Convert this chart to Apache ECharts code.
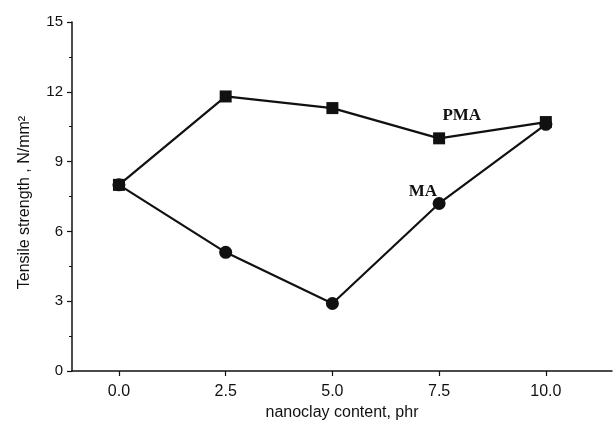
<!DOCTYPE html>
<html><head><meta charset="utf-8">
<script src="https://cdn.jsdelivr.net/npm/echarts@6/dist/echarts.min.js"></script>
<style>html,body{margin:0;padding:0;background:#fff}#c{width:613px;height:429px}</style>
</head><body><div id="c"></div>
<script>
const xValues = [0, 2.5, 5, 7.5, 10];
const pmaValues = [8.0, 11.8, 11.3, 10.0, 10.7];
const maValues = [8.0, 5.1, 2.9, 7.2, 10.6];
const xTicks = [0, 2.5, 5, 7.5, 10];
const yTicks = [0, 3, 6, 9, 12, 15];
const pmaLabelPos = [8.03, 10.98];
const maLabelPos = [7.12, 7.73];

const chart = echarts.init(document.getElementById('c'), null, {renderer: 'canvas'});
const font = 'Liberation Sans, Arial, sans-serif';
const axisCommon = {
  axisLine: {show: true, onZero: false, lineStyle: {color: '#111', width: 1.5}},
  axisTick: {show: true, inside: false, length: 5, lineStyle: {color: '#111', width: 1.2}},
  minorTick: {show: true, splitNumber: 2, length: 3, lineStyle: {color: '#111', width: 1}},
  splitLine: {show: false},
  axisLabel: {color: '#111', fontFamily: font, fontSize: 16}
};
chart.setOption({
  animation: false,
  grid: {left: 72, top: 22, right: 1, bottom: 58, containLabel: false},
  xAxis: Object.assign({}, axisCommon, {
    type: 'value', min: -1.1, max: 11.55,
    customValues: xTicks,
    axisTick: Object.assign({}, axisCommon.axisTick, {customValues: xTicks}),
    axisLabel: Object.assign({}, axisCommon.axisLabel, {customValues: xTicks, margin: 13,
      formatter: v => v.toFixed(1)}),
    minorTick: {show: false},
    name: 'nanoclay content, phr', nameLocation: 'middle', nameGap: 33,
    nameTextStyle: {color: '#111', fontFamily: font, fontSize: 16}
  }),
  yAxis: Object.assign({}, axisCommon, {
    type: 'value', min: 0, max: 15, interval: 3,
    axisLabel: Object.assign({}, axisCommon.axisLabel, {margin: 9, fontSize: 15}),
    name: 'Tensile strength , N/mm²', nameLocation: 'middle', nameGap: 39,
    nameTextStyle: {color: '#111', fontFamily: font, fontSize: 16, padding: [0, 12, 0, 0]}
  }),
  series: [
    {
      name: 'PMA', type: 'line', data: xValues.map((x, i) => [x, pmaValues[i]]),
      symbol: 'rect', symbolSize: 12,
      lineStyle: {color: '#111', width: 2.2}, itemStyle: {color: '#111'},
      markPoint: {symbol: 'rect', symbolSize: 0, silent: true, data: [{coord: pmaLabelPos,
        label: {show: true, position: 'inside', formatter: 'PMA', color: '#111',
          fontFamily: 'Liberation Serif, Times New Roman, serif', fontWeight: 'bold', fontSize: 17}}]}
    },
    {
      name: 'MA', type: 'line', data: xValues.map((x, i) => [x, maValues[i]]),
      symbol: 'circle', symbolSize: 13,
      lineStyle: {color: '#111', width: 2.2}, itemStyle: {color: '#111'},
      markPoint: {symbol: 'rect', symbolSize: 0, silent: true, data: [{coord: maLabelPos,
        label: {show: true, position: 'inside', formatter: 'MA', color: '#111',
          fontFamily: 'Liberation Serif, Times New Roman, serif', fontWeight: 'bold', fontSize: 17}}]}
    }
  ]
});
</script></body></html>
